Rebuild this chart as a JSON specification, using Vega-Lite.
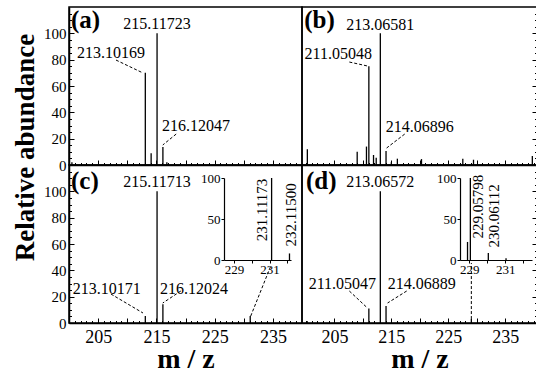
{
"$schema": "https://vega.github.io/schema/vega-lite/v6.json",
"background": "white",
"padding": {"left": 10, "top": 6, "right": 3, "bottom": 0},
"columns": 2,
"spacing": 0,
"bounds": "flush",
"config": {
  "font": "Liberation Serif",
  "view": {"stroke": "black", "strokeWidth": 1.5},
  "text": {"font": "Liberation Serif"},
  "axis": {"grid": false, "domainColor": "black", "tickColor": "black", "labelColor": "black", "titleColor": "black", "labelFont": "Liberation Serif", "titleFont": "Liberation Serif", "domainWidth": 1.5, "tickWidth": 1, "labelOverlap": false, "labelFlush": false}
},
"datasets": {
  "pA": [{"mz": 200.5, "ab": 2}, {"mz": 213.10169, "ab": 70}, {"mz": 214.1, "ab": 9}, {"mz": 215.11723, "ab": 100}, {"mz": 216.12047, "ab": 13.7}, {"mz": 216.8, "ab": 2}],
  "lA": [{"mz": 208.07, "ab": 79.7, "mz2": 212.7, "ab2": 69.9}, {"mz": 218.4, "ab": 23.5, "mz2": 216.1, "ab2": 15.2}],
  "tA": [{"mz": 215.117, "ab": 107, "t": "215.11723"}, {"mz": 207.2, "ab": 85, "t": "213.10169"}, {"mz": 221.8, "ab": 29.6, "t": "216.12047"}],
  "pB": [{"mz": 200.24, "ab": 12}, {"mz": 209.0, "ab": 10}, {"mz": 210.63, "ab": 14}, {"mz": 211.05048, "ab": 75}, {"mz": 211.87, "ab": 7.6}, {"mz": 212.34, "ab": 5.5}, {"mz": 213.06581, "ab": 100}, {"mz": 214.06896, "ab": 10.6}, {"mz": 215.0, "ab": 2}, {"mz": 216.06, "ab": 4.8}, {"mz": 220.3, "ab": 4.5}, {"mz": 227.56, "ab": 4.8}, {"mz": 229.44, "ab": 4}, {"mz": 239.78, "ab": 6.8}],
  "lB": [{"mz": 207.62, "ab": 78.2, "mz2": 210.8, "ab2": 75.2}, {"mz": 217.35, "ab": 23.5, "mz2": 214.17, "ab2": 12.9}],
  "tB": [{"mz": 213.066, "ab": 106, "t": "213.06581"}, {"mz": 205.67, "ab": 84.3, "t": "211.05048"}, {"mz": 220.0, "ab": 28.9, "t": "214.06896"}],
  "pC": [{"mz": 213.10171, "ab": 5.3}, {"mz": 215.11713, "ab": 100}, {"mz": 216.12024, "ab": 14.3}, {"mz": 231.11173, "ab": 5.3}],
  "lC": [{"mz": 207.2, "ab": 22.0, "mz2": 212.7, "ab2": 7.6}, {"mz": 219.2, "ab": 24.3, "mz2": 216.1, "ab2": 15.2}, {"mz": 231.2, "ab": 5.3, "mz2": 234.64, "ab2": 43.3}],
  "tC": [{"mz": 215.117, "ab": 107, "t": "215.11713"}, {"mz": 206.5, "ab": 25.8, "t": "213.10171"}, {"mz": 221.46, "ab": 25.8, "t": "216.12024"}],
  "iC": [{"mz": 231.11173, "ab": 100}, {"mz": 232.115, "ab": 8}],
  "itC": [{"mz": 230.57, "ab": 61, "t": "231.11173"}, {"mz": 232.2, "ab": 55, "t": "232.11500"}],
  "pD": [{"mz": 200.2, "ab": 1.5}, {"mz": 211.05047, "ab": 11}, {"mz": 213.06572, "ab": 100}, {"mz": 214.06889, "ab": 13}, {"mz": 229.06, "ab": 3}],
  "lD": [{"mz": 207.62, "ab": 24.3, "mz2": 210.8, "ab2": 11.4}, {"mz": 217.7, "ab": 24.3, "mz2": 214.34, "ab2": 15.2}, {"mz": 229.06, "ab": 3, "mz2": 229.06, "ab2": 45.6}],
  "tD": [{"mz": 213.066, "ab": 107, "t": "213.06572"}, {"mz": 206.4, "ab": 29.6, "t": "211.05047"}, {"mz": 220.36, "ab": 29.6, "t": "214.06889"}],
  "iD": [{"mz": 228.9, "ab": 22}, {"mz": 229.05798, "ab": 100}, {"mz": 230.06112, "ab": 8.5}, {"mz": 231.05, "ab": 2}],
  "itD": [{"mz": 229.46, "ab": 65, "t": "229.05798"}, {"mz": 230.39, "ab": 53.7, "t": "230.06112"}]
},
"concat": [
{
  "width": 233, "height": 158,
  "resolve": {"axis": {"x": "independent", "y": "independent"}},
  "layer": [
    {"data": {"name": "pA"}, "mark": {"type": "rule", "color": "black", "strokeWidth": 1.3},
     "encoding": {
       "x": {"field": "mz", "type": "quantitative", "scale": {"domain": [200, 240], "nice": false, "zero": false},
             "axis": {"title": null, "orient": "bottom", "values": [205,210,215,220,225,230,235], "labels": false, "tickSize": -5}},
       "y": {"field": "ab", "type": "quantitative", "scale": {"domain": [0, 120], "nice": false},
             "axis": {"title": "Relative abundance", "orient": "left", "values": [0,20,40,60,80,100], "labelFontSize": 15, "labelPadding": 8, "tickSize": -5, "titleFontSize": 27, "titleFontWeight": "bold", "titleAngle": 270, "titleX": -36, "titleY": 140, "titleAlign": "center", "titleBaseline": "alphabetic"}},
       "y2": {"datum": 0}}},
    {"data": {"name": "pA"}, "mark": {"type": "rule", "opacity": 0},
     "encoding": {
       "x": {"field": "mz", "type": "quantitative", "axis": {"title": null, "orient": "bottom", "domain": false, "labels": false, "tickSize": -2.5, "values": [201,202,203,204,206,207,208,209,211,212,213,214,216,217,218,219,221,222,223,224,226,227,228,229,231,232,233,234,236,237,238,239]}},
       "y": {"field": "ab", "type": "quantitative", "axis": {"title": null, "orient": "left", "domain": false, "labels": false, "tickSize": -2.5, "values": [5,10,15,25,30,35,45,50,55,65,70,75,85,90,95,105,110,115]}},
       "y2": {"datum": 0}}},
    {"data": {"name": "lA"}, "mark": {"type": "rule", "color": "black", "strokeWidth": 1, "strokeDash": [3, 2]},
     "encoding": {"x": {"field": "mz", "type": "quantitative", "axis": null}, "y": {"field": "ab", "type": "quantitative", "axis": null}, "x2": {"field": "mz2"}, "y2": {"field": "ab2"}}},
    {"data": {"name": "tA"}, "mark": {"type": "text", "fontSize": 16, "color": "black"},
     "encoding": {"x": {"field": "mz", "type": "quantitative", "axis": null}, "y": {"field": "ab", "type": "quantitative", "axis": null}, "text": {"field": "t"}}},
    {"data": {"values": [{"mz": 200.35, "ab": 110, "t": "(a)"}]}, "mark": {"type": "text", "fontSize": 25, "fontWeight": "bold", "align": "left", "color": "black"},
     "encoding": {"x": {"field": "mz", "type": "quantitative", "axis": null}, "y": {"field": "ab", "type": "quantitative", "axis": null}, "text": {"field": "t"}}}
  ]
},
{
  "width": 235, "height": 158,
  "resolve": {"axis": {"x": "independent", "y": "independent"}},
  "layer": [
    {"data": {"name": "pB"}, "mark": {"type": "rule", "color": "black", "strokeWidth": 1.3},
     "encoding": {
       "x": {"field": "mz", "type": "quantitative", "scale": {"domain": [199.3, 240.6], "nice": false, "zero": false},
             "axis": {"title": null, "orient": "bottom", "values": [205,210,215,220,225,230,235], "labels": false, "tickSize": -5}},
       "y": {"field": "ab", "type": "quantitative", "scale": {"domain": [0, 120], "nice": false},
             "axis": {"title": null, "orient": "right", "values": [0,20,40,60,80,100], "labels": false, "tickSize": -5}},
       "y2": {"datum": 0}}},
    {"data": {"name": "pB"}, "mark": {"type": "rule", "opacity": 0},
     "encoding": {
       "x": {"field": "mz", "type": "quantitative", "axis": {"title": null, "orient": "bottom", "domain": false, "labels": false, "tickSize": -2.5, "values": [200,201,202,203,204,206,207,208,209,211,212,213,214,216,217,218,219,221,222,223,224,226,227,228,229,231,232,233,234,236,237,238,239,240]}},
       "y": {"field": "ab", "type": "quantitative", "axis": {"title": null, "orient": "right", "domain": false, "labels": false, "tickSize": -2.5, "values": [5,10,15,25,30,35,45,50,55,65,70,75,85,90,95,105,110,115]}},
       "y2": {"datum": 0}}},
    {"data": {"name": "lB"}, "mark": {"type": "rule", "color": "black", "strokeWidth": 1, "strokeDash": [3, 2]},
     "encoding": {"x": {"field": "mz", "type": "quantitative", "axis": null}, "y": {"field": "ab", "type": "quantitative", "axis": null}, "x2": {"field": "mz2"}, "y2": {"field": "ab2"}}},
    {"data": {"name": "tB"}, "mark": {"type": "text", "fontSize": 16, "color": "black"},
     "encoding": {"x": {"field": "mz", "type": "quantitative", "axis": null}, "y": {"field": "ab", "type": "quantitative", "axis": null}, "text": {"field": "t"}}},
    {"data": {"values": [{"mz": 199.7, "ab": 110.5, "t": "(b)"}]}, "mark": {"type": "text", "fontSize": 25, "fontWeight": "bold", "align": "left", "color": "black"},
     "encoding": {"x": {"field": "mz", "type": "quantitative", "axis": null}, "y": {"field": "ab", "type": "quantitative", "axis": null}, "text": {"field": "t"}}}
  ]
},
{
  "width": 233, "height": 158,
  "resolve": {"scale": {"x": "independent", "y": "independent"}, "axis": {"x": "independent", "y": "independent"}},
  "layer": [
    {"resolve": {"axis": {"x": "independent", "y": "independent"}},
     "layer": [
      {"data": {"name": "pC"}, "mark": {"type": "rule", "color": "black", "strokeWidth": 1.3},
       "encoding": {
         "x": {"field": "mz", "type": "quantitative", "scale": {"domain": [200, 240], "nice": false, "zero": false},
               "axis": {"title": "m / z", "orient": "bottom", "values": [205,210,215,220,225,230,235], "labelExpr": "datum.value % 10 === 5 ? datum.label : ''", "labelFontSize": 18, "labelPadding": 10.5, "labelBaseline": "top", "tickSize": -5, "titleFontSize": 28, "titleFontWeight": "bold", "titleY": 44, "titleBaseline": "alphabetic"}},
         "y": {"field": "ab", "type": "quantitative", "scale": {"domain": [0, 120], "nice": false},
               "axis": {"title": null, "orient": "left", "values": [0,20,40,60,80,100], "labelFontSize": 15, "labelPadding": 8, "tickSize": -5}},
         "y2": {"datum": 0}}},
      {"data": {"name": "pC"}, "mark": {"type": "rule", "opacity": 0},
       "encoding": {
         "x": {"field": "mz", "type": "quantitative", "axis": {"title": null, "orient": "bottom", "domain": false, "labels": false, "tickSize": -2.5, "values": [201,202,203,204,206,207,208,209,211,212,213,214,216,217,218,219,221,222,223,224,226,227,228,229,231,232,233,234,236,237,238,239]}},
         "y": {"field": "ab", "type": "quantitative", "axis": {"title": null, "orient": "left", "domain": false, "labels": false, "tickSize": -2.5, "values": [5,10,15,25,30,35,45,50,55,65,70,75,85,90,95,105,110,115]}},
         "y2": {"datum": 0}}},
      {"data": {"name": "lC"}, "mark": {"type": "rule", "color": "black", "strokeWidth": 1, "strokeDash": [3, 2]},
       "encoding": {"x": {"field": "mz", "type": "quantitative", "axis": null}, "y": {"field": "ab", "type": "quantitative", "axis": null}, "x2": {"field": "mz2"}, "y2": {"field": "ab2"}}},
      {"data": {"name": "tC"}, "mark": {"type": "text", "fontSize": 16, "color": "black"},
       "encoding": {"x": {"field": "mz", "type": "quantitative", "axis": null}, "y": {"field": "ab", "type": "quantitative", "axis": null}, "text": {"field": "t"}}},
      {"data": {"values": [{"mz": 200.35, "ab": 107.6, "t": "(c)"}]}, "mark": {"type": "text", "fontSize": 25, "fontWeight": "bold", "align": "left", "color": "black"},
       "encoding": {"x": {"field": "mz", "type": "quantitative", "axis": null}, "y": {"field": "ab", "type": "quantitative", "axis": null}, "text": {"field": "t"}}}
    ]},
    {"layer": [
      {"data": {"name": "iC"}, "mark": {"type": "rule", "color": "black", "strokeWidth": 1.3},
       "encoding": {
         "x": {"field": "mz", "type": "quantitative", "scale": {"domain": [228.44, 232.2], "range": [155, 222], "nice": false, "zero": false},
               "axis": {"title": null, "orient": "bottom", "offset": -63, "values": [229, 230, 231, 232], "format": "d", "labelExpr": "datum.value === 229 || datum.value === 231 ? datum.label : ''", "labelFontSize": 13, "labelPadding": 0, "tickSize": 3, "domainWidth": 1.2}},
         "y": {"field": "ab", "type": "quantitative", "scale": {"domain": [0, 100], "range": [95, 13], "nice": false},
               "axis": {"title": null, "orient": "left", "offset": -155, "values": [0, 50, 100], "labelFontSize": 13, "labelPadding": 1, "tickSize": 3, "domainWidth": 1.2}},
         "y2": {"datum": 0}}},
      {"data": {"name": "itC"}, "mark": {"type": "text", "fontSize": 15, "angle": 270, "color": "black"},
       "encoding": {"x": {"field": "mz", "type": "quantitative"}, "y": {"field": "ab", "type": "quantitative"}, "text": {"field": "t"}}}
    ]}
  ]
},
{
  "width": 235, "height": 158,
  "resolve": {"scale": {"x": "independent", "y": "independent"}, "axis": {"x": "independent", "y": "independent"}},
  "layer": [
    {"resolve": {"axis": {"x": "independent", "y": "independent"}},
     "layer": [
      {"data": {"name": "pD"}, "mark": {"type": "rule", "color": "black", "strokeWidth": 1.3},
       "encoding": {
         "x": {"field": "mz", "type": "quantitative", "scale": {"domain": [199.3, 240.6], "nice": false, "zero": false},
               "axis": {"title": "m / z", "orient": "bottom", "values": [205,210,215,220,225,230,235], "labelExpr": "datum.value % 10 === 5 ? datum.label : ''", "labelFontSize": 18, "labelPadding": 10.5, "labelBaseline": "top", "tickSize": -5, "titleFontSize": 28, "titleFontWeight": "bold", "titleY": 44, "titleBaseline": "alphabetic"}},
         "y": {"field": "ab", "type": "quantitative", "scale": {"domain": [0, 120], "nice": false},
               "axis": {"title": null, "orient": "right", "values": [0,20,40,60,80,100], "labels": false, "tickSize": -5}},
         "y2": {"datum": 0}}},
      {"data": {"name": "pD"}, "mark": {"type": "rule", "opacity": 0},
       "encoding": {
         "x": {"field": "mz", "type": "quantitative", "axis": {"title": null, "orient": "bottom", "domain": false, "labels": false, "tickSize": -2.5, "values": [200,201,202,203,204,206,207,208,209,211,212,213,214,216,217,218,219,221,222,223,224,226,227,228,229,231,232,233,234,236,237,238,239,240]}},
         "y": {"field": "ab", "type": "quantitative", "axis": {"title": null, "orient": "right", "domain": false, "labels": false, "tickSize": -2.5, "values": [5,10,15,25,30,35,45,50,55,65,70,75,85,90,95,105,110,115]}},
         "y2": {"datum": 0}}},
      {"data": {"name": "lD"}, "mark": {"type": "rule", "color": "black", "strokeWidth": 1, "strokeDash": [3, 2]},
       "encoding": {"x": {"field": "mz", "type": "quantitative", "axis": null}, "y": {"field": "ab", "type": "quantitative", "axis": null}, "x2": {"field": "mz2"}, "y2": {"field": "ab2"}}},
      {"data": {"name": "tD"}, "mark": {"type": "text", "fontSize": 16, "color": "black"},
       "encoding": {"x": {"field": "mz", "type": "quantitative", "axis": null}, "y": {"field": "ab", "type": "quantitative", "axis": null}, "text": {"field": "t"}}},
      {"data": {"values": [{"mz": 200.0, "ab": 107.6, "t": "(d)"}]}, "mark": {"type": "text", "fontSize": 25, "fontWeight": "bold", "align": "left", "color": "black"},
       "encoding": {"x": {"field": "mz", "type": "quantitative", "axis": null}, "y": {"field": "ab", "type": "quantitative", "axis": null}, "text": {"field": "t"}}}
    ]},
    {"layer": [
      {"data": {"name": "iD"}, "mark": {"type": "rule", "color": "black", "strokeWidth": 1.3},
       "encoding": {
         "x": {"field": "mz", "type": "quantitative", "scale": {"domain": [228.48, 232.5], "range": [158, 230], "nice": false, "zero": false},
               "axis": {"title": null, "orient": "bottom", "offset": -63, "values": [229, 230, 231, 232], "format": "d", "labelExpr": "datum.value === 229 || datum.value === 231 ? datum.label : ''", "labelFontSize": 13, "labelPadding": 0, "tickSize": 3, "domainWidth": 1.2}},
         "y": {"field": "ab", "type": "quantitative", "scale": {"domain": [0, 100], "range": [95, 13], "nice": false},
               "axis": {"title": null, "orient": "left", "offset": -158, "values": [0, 50, 100], "labelFontSize": 13, "labelPadding": 1, "tickSize": 3, "domainWidth": 1.2}},
         "y2": {"datum": 0}}},
      {"data": {"name": "itD"}, "mark": {"type": "text", "fontSize": 15, "angle": 270, "color": "black"},
       "encoding": {"x": {"field": "mz", "type": "quantitative"}, "y": {"field": "ab", "type": "quantitative"}, "text": {"field": "t"}}}
    ]}
  ]
}
]
}
